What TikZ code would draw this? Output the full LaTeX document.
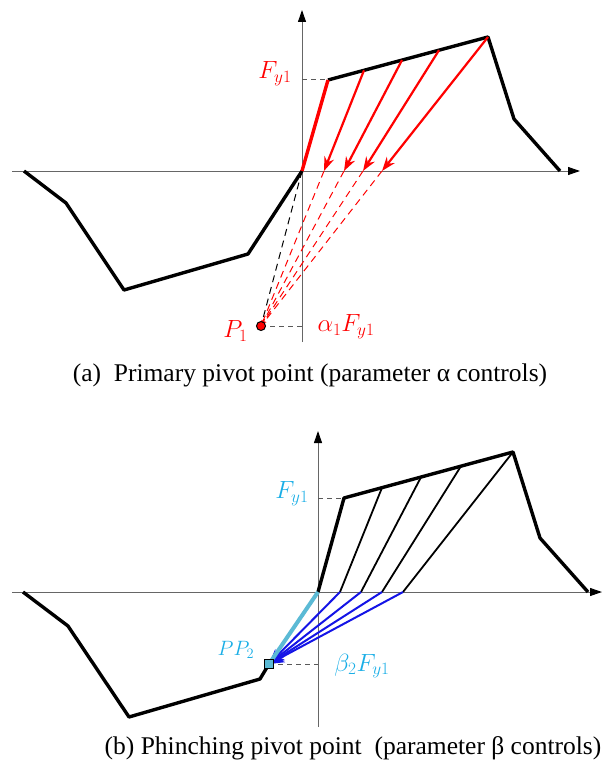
\documentclass[tikz,border=0pt]{standalone}
\usepackage{fontspec}
\setmainfont{Liberation Serif}
\usetikzlibrary{arrows.meta, positioning, calc}
\definecolor{axisgray}{HTML}{666666}
\definecolor{pivotred}{HTML}{FF0000}
\definecolor{pinchcyan}{HTML}{1AAEE6}
\definecolor{pinchlight}{HTML}{5BBAD5}
\definecolor{pinchblue}{HTML}{1414E6}
\newcommand{\loadaxes}[4]{%
  \draw[axisgray, line width=1pt, -{Triangle[length=12pt, width=8pt, color=black]}] (12,#2) -- (#3,#2);
  \draw[axisgray, line width=1pt, -{Triangle[length=12pt, width=8pt, color=black]}] (#1,#4) -- (#1,#2-161);}

\begin{document}
\begin{tikzpicture}[x=1pt, y=-1pt,
    backbone/.style={black, line width=3.4pt, line join=round},
    guide/.style={black!65, dash pattern=on 5pt off 4pt, line width=1pt},
    label/.style={font=\fontsize{26}{30}\selectfont},
    caption/.style={font=\fontsize{25.5}{30}\selectfont, anchor=center}]
  \useasboundingbox (0,0) rectangle (609,765);

  % (a) primary pivot point
  \loadaxes{302}{171}{580}{342}
  \coordinate (o1) at (302,171);
  \coordinate (y1) at (328,80);
  \coordinate (m1) at (488,37);
  \coordinate (d1) at (514,119);
  \coordinate (e1) at (560,171);
  \coordinate (n1a) at (248,254);
  \coordinate (n1b) at (124,290);
  \coordinate (n1c) at (66,203);
  \coordinate (n1d) at (24,171);
  \coordinate (p1) at (261,326);
  \draw[backbone] (y1) -- (m1) -- (d1) -- (e1);
  \draw[backbone] (o1) -- (n1a) -- (n1b) -- (n1c) -- (n1d);
  \draw[pivotred, line width=3.4pt] (o1) -- (y1);
  \foreach \t/\x [count=\i] in {0.225/324, 0.4625/344, 0.694/363, 1/382} {
    \coordinate (s1\i) at ($(y1)!\t!(m1)$);
    \coordinate (t1\i) at (\x,171);
    \draw[pivotred, line width=2.2pt, -{Stealth[length=14pt, width=10pt]}] (s1\i) -- (t1\i);
    \draw[pivotred, dash pattern=on 7pt off 5pt, line width=1pt, -{Stealth[length=6pt, width=4pt]}] (t1\i) -- (p1);
  }
  \draw[black, dash pattern=on 7pt off 5pt, line width=1pt] (o1) -- (p1);
  \draw[guide] (302,80) -- (y1);
  \draw[guide] (p1) -- (302,326);
  \node[circle, draw=black, fill=pivotred, line width=1pt, inner sep=0pt, minimum size=9pt] (p1dot) at (p1) {};
  \node[pivotred, label, anchor=center] (fy1a) at (275,74) {$F_{y1}$};
  \node[pivotred, label, left=5pt of p1dot, yshift=-5pt] (p1lab) {$P_1$};
  \node[pivotred, label, anchor=center] (alab) at (346,327) {$\alpha_1 F_{y1}$};
  \node[caption] (capa) at (310,375) {(a)\ \ Primary pivot point (parameter α controls)};

  % (b) pinching pivot point
  \loadaxes{318}{592}{602}{727}
  \coordinate (o2) at (318,592);
  \coordinate (y2) at (344,498);
  \coordinate (m2) at (513,452);
  \coordinate (d2) at (540,538);
  \coordinate (e2) at (588,592);
  \coordinate (pp2) at (269,664);
  \coordinate (n2a) at (260,679);
  \coordinate (n2b) at (129,717);
  \coordinate (n2c) at (68,626);
  \coordinate (n2d) at (23,592);
  \draw[backbone] (o2) -- (y2) -- (m2) -- (d2) -- (e2);
  \draw[backbone] (pp2) -- (n2a) -- (n2b) -- (n2c) -- (n2d);
  \foreach \t/\x [count=\i] in {0.225/340, 0.456/361, 0.692/382, 1/403} {
    \coordinate (s2\i) at ($(y2)!\t!(m2)$);
    \coordinate (t2\i) at (\x,592);
    \draw[black, line width=1.8pt] (s2\i) -- (t2\i);
    \draw[pinchblue, line width=2pt, -{Stealth[length=15pt, width=12pt]}] (t2\i) -- (pp2);
  }
  \draw[pinchlight, line width=4pt] (o2) -- (pp2);
  \draw[guide] (318,498) -- (y2);
  \draw[guide] (pp2) -- (318,664);
  \node[rectangle, draw=black, fill=pinchlight, line width=1pt, inner sep=0pt, minimum size=9pt] (pp2box) at (pp2) {};
  \node[pinchcyan, label, anchor=center] (fy1b) at (292,494) {$F_{y1}$};
  \node[pinchcyan, font=\fontsize{21}{24}\selectfont, anchor=center] (pp2lab) at (236,650) {$PP_2$};
  \node[pinchcyan, label, anchor=center] (blab) at (362,666) {$\beta_2 F_{y1}$};
  \node[caption] (capb) at (353,748) {(b) Phinching pivot point\ \ (parameter β controls)};
\end{tikzpicture}
\end{document}
